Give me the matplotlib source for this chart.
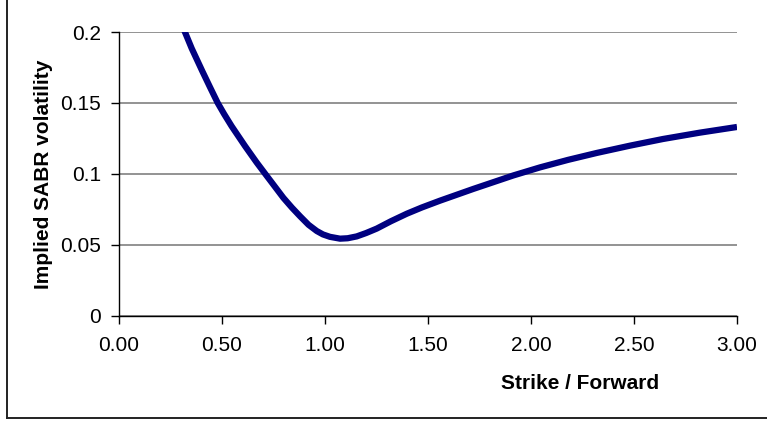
"""Implied SABR volatility against strike / forward, Excel-style line chart."""
import matplotlib.pyplot as plt
from matplotlib.lines import Line2D

# values
strike_fwd = [0.30, 0.32, 0.353, 0.404, 0.442, 0.479, 0.51, 0.547, 0.612, 0.668,
              0.712, 0.798, 0.84, 0.879, 0.92, 0.96, 0.99, 1.024, 1.073, 1.11,
              1.154, 1.20, 1.251, 1.32, 1.397, 1.47, 1.558, 1.720, 1.914, 2.044,
              2.18, 2.320, 2.48, 2.640, 2.82, 3.00]
implied_vol = [0.207, 0.200, 0.1884, 0.1725, 0.1610, 0.1500, 0.1422, 0.1335,
               0.1195, 0.1080, 0.0995, 0.0830, 0.0760, 0.0700, 0.0640, 0.0596,
               0.0572, 0.0555, 0.0542, 0.0545, 0.0558, 0.0582, 0.0613, 0.0665,
               0.0718, 0.0762, 0.0810, 0.0893, 0.0988, 0.1045, 0.1098, 0.1147,
               0.1198, 0.1245, 0.1290, 0.1330]

x_ticks = [0.0, 0.5, 1.0, 1.5, 2.0, 2.5, 3.0]
y_ticks = [0.0, 0.05, 0.10, 0.15, 0.20]
y_tick_labels = ["0", "0.05", "0.1", "0.15", "0.2"]

plt.rcParams["font.family"] = ["Liberation Sans", "DejaVu Sans"]

W, H = 767, 423
fig = plt.figure(figsize=(W / 100, H / 100), dpi=100)
ax = fig.add_axes([119 / W, 1 - 315.5 / H, (737 - 119) / W, (315.5 - 32) / H])

ax.plot(strike_fwd, implied_vol, color="#000080", lw=4.5,
        solid_capstyle="butt", solid_joinstyle="round", zorder=3)

ax.set_xlim(0, 3)
ax.set_ylim(0, 0.2)
ax.set_xticks(x_ticks)
ax.set_xticklabels([f"{v:.2f}" for v in x_ticks])
ax.set_yticks(y_ticks)
ax.set_yticklabels(y_tick_labels)
ax.tick_params(direction="out", length=6, width=1, color="black",
               labelsize=15)
ax.tick_params(axis="x", pad=9)
ax.tick_params(axis="y", pad=7)

ax.yaxis.grid(True, color="#808080", lw=1.2)
ax.set_axisbelow(True)
for side in ("top", "right"):
    ax.spines[side].set_visible(False)
for side in ("left", "bottom"):
    ax.spines[side].set_color("black")
    ax.spines[side].set_linewidth(1)
ax.spines["bottom"].set_zorder(4)

fig.text(580 / W, 1 - 383 / H, "Strike / Forward", ha="center", va="center",
         fontsize=15, fontweight="bold")
fig.text(44 / W, 1 - 174 / H, "Implied SABR volatility", ha="center",
         va="center", rotation=90, fontsize=15, fontweight="bold")

# outer chart-area frame (only left and bottom edges are inside the crop)
fig.add_artist(Line2D([6.5 / W, 6.5 / W], [1 - 418 / H, 1.0],
                      transform=fig.transFigure, color="#222222", lw=1.4))
fig.add_artist(Line2D([6.5 / W, 1.0], [1 - 418 / H, 1 - 418 / H],
                      transform=fig.transFigure, color="#222222", lw=1.4))

fig.savefig("out.png", dpi=100)
